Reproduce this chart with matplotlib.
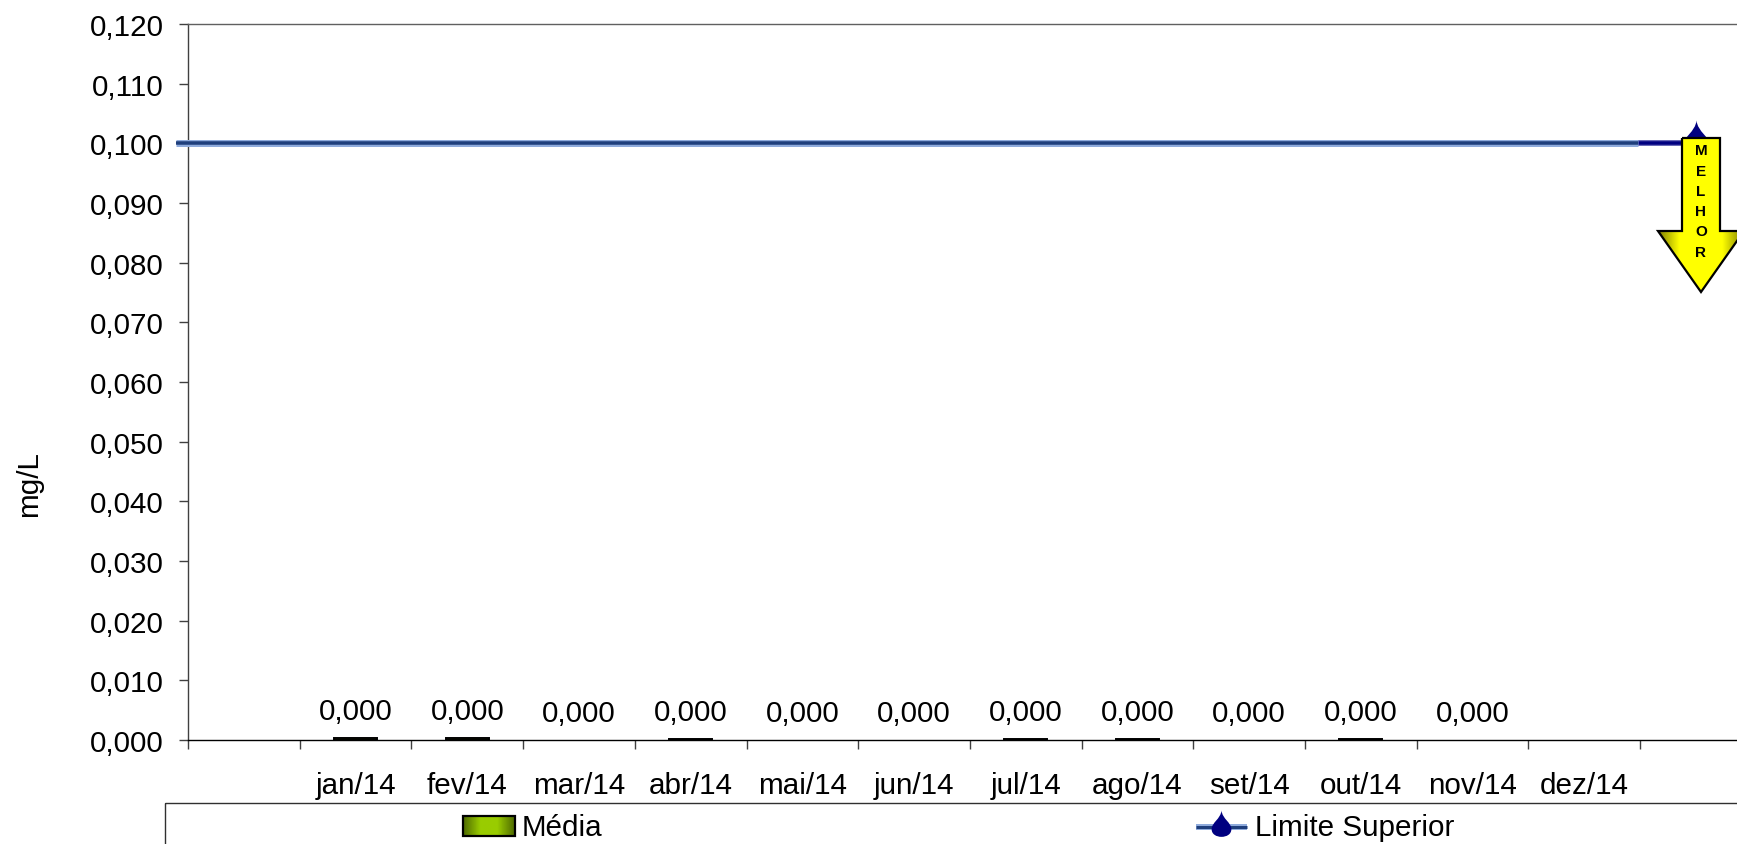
import numpy as np
import matplotlib
matplotlib.use('Agg')
import matplotlib.pyplot as plt
from matplotlib.colors import LinearSegmentedColormap
from matplotlib.patches import Polygon, Rectangle
from matplotlib.path import Path

plt.rcParams['font.family'] = ['Liberation Sans', 'DejaVu Sans']

months = ['', 'jan/14', 'fev/14', 'mar/14', 'abr/14', 'mai/14', 'jun/14', 'jul/14',
          'ago/14', 'set/14', 'out/14', 'nov/14', 'dez/14', '']
media = [np.nan, 0.0004, 0.0004, 0.0, 0.0002, 0.0, 0.0, 0.0002,
         0.0002, 0.0, 0.0002, 0.0, np.nan, np.nan]
limite = [0.1] * 14
yticks = [0.0, 0.01, 0.02, 0.03, 0.04, 0.05, 0.06, 0.07, 0.08, 0.09, 0.1, 0.11, 0.12]

W, H = 1737, 845
FS = 21.3
px = 72 / 100

# droplet marker used by the Limite Superior series
drop = Path([(0, 1), (0.05, 0.5), (0.58, 0.3), (0.58, -0.1), (0.58, -0.4), (0.3, -0.55),
             (0, -0.55), (-0.3, -0.55), (-0.58, -0.4), (-0.58, -0.1), (-0.58, 0.3),
             (-0.05, 0.5), (0, 1)],
            [Path.MOVETO] + [Path.CURVE4] * 12)

fig = plt.figure(figsize=(W / 100, H / 100), dpi=100)
# plot area runs off the right edge of the picture, like the original crop
ax = fig.add_axes([188 / W, (H - 741) / H, 14 * 111.7 / W, 716 / H])

x = np.arange(len(months))
edge = [1.4 if v > 0 else 0 for v in media]
ax.bar(x, media, width=0.385, color='#99cc00', edgecolor='black', linewidth=edge, zorder=2)

# thick pasted line over the limit series
ax.plot(x, limite, color='#6a6ab8', lw=6 * px, zorder=3, solid_capstyle='butt')
ax.plot(x, limite, color='#000080', lw=3.5 * px, zorder=3, solid_capstyle='butt')
ax.plot([-0.607, 12.48], [limite[0], limite[0]], color='#8fabdc', lw=7 * px,
        solid_capstyle='butt', clip_on=False, zorder=4)
ax.plot([-0.607, 12.48], [limite[0], limite[0]], color='#1f3f7c', lw=3.5 * px,
        solid_capstyle='butt', clip_on=False, zorder=5)
ax.plot(x, limite, linestyle='none', marker=drop, markevery=[13], markersize=46 * px,
        color='#000080', markeredgewidth=0, zorder=6, clip_on=False)

for xi, v in zip(x, media):
    if not np.isnan(v):
        ax.annotate(f'{v:.3f}'.replace('.', ','), (xi, v), xytext=(0, 13.4),
                    textcoords='offset points', ha='center', va='baseline', fontsize=FS)

ax.set_xlim(-0.5, 13.5)
ax.set_ylim(0, 0.12)
ax.set_yticks(yticks)
ax.set_yticklabels([f'{t:.3f}'.replace('.', ',') for t in yticks], fontsize=FS)
ax.set_xticks(np.arange(-0.5, 14))
ax.set_xticklabels([])
ax.set_xticks(x, minor=True)
ax.set_xticklabels(months, minor=True, fontsize=FS)
ax.tick_params(axis='x', which='minor', length=0, pad=22)
ax.tick_params(axis='x', which='major', length=9 * px, width=1, color='#404040')
ax.tick_params(axis='y', length=9 * px, width=1, color='#404040', pad=10.8)
ax.spines['left'].set_color('#404040')
ax.spines['top'].set_color('#606060')
ax.spines['bottom'].set_color('black')
ax.spines['right'].set_visible(False)
for s in ax.spines.values():
    s.set_linewidth(1)

fig.text(29 / W, 1 - 484 / H, 'mg/L', rotation=90, ha='center', va='center', fontsize=FS)

# overlay in picture pixels for the pasted arrow and the legend box
ov = fig.add_axes([0, 0, 1, 1], facecolor='none')
ov.axis('off')

arrow = Polygon([(1682, 139), (1720, 139), (1720, 232), (1744, 232), (1701, 293),
                 (1658, 232), (1682, 232)], closed=True, facecolor='none',
                edgecolor='black', linewidth=1.6, zorder=4)
ov.add_patch(arrow)
yellow = LinearSegmentedColormap.from_list('am', ['#7d7d00', '#ffff00', '#ffff00', '#ffff00', '#7d7d00'])
im = ov.imshow(np.linspace(0, 1, 256).reshape(1, -1), cmap=yellow, extent=(1658, 1744, 293, 139),
               aspect='auto', zorder=3)
im.set_clip_path(arrow)
ov.text(1701, 202, '\n'.join('MELHOR'), ha='center', va='center', fontsize=11,
        fontweight='bold', linespacing=1.57, zorder=5)

ov.add_patch(Rectangle((165, 804), 1700, 100, facecolor='none', edgecolor='#303030', linewidth=1))
green = LinearSegmentedColormap.from_list('vd', ['#4f6b00', '#99cc00', '#99cc00', '#4f6b00'])
ov.imshow(np.linspace(0, 1, 64).reshape(1, -1), cmap=green, extent=(463, 515, 837, 817),
          aspect='auto', zorder=3)
ov.add_patch(Rectangle((463, 817), 52, 20, facecolor='none', edgecolor='black', linewidth=1.6, zorder=4))
ov.text(522, 828, 'Média', va='center', ha='left', fontsize=FS)
ov.plot([1196, 1247], [828, 828], color='#8fabdc', lw=6 * px, solid_capstyle='butt')
ov.plot([1196, 1247], [828, 828], color='#1f3f7c', lw=3 * px, solid_capstyle='butt')
ov.plot([1221], [828], linestyle='none', marker=drop, markersize=34 * px, color='#000080',
        markeredgewidth=0)
ov.text(1255, 828, 'Limite Superior', va='center', ha='left', fontsize=FS)

ov.set_xlim(0, W)
ov.set_ylim(H, 0)

fig.savefig('out.png', dpi=100)
